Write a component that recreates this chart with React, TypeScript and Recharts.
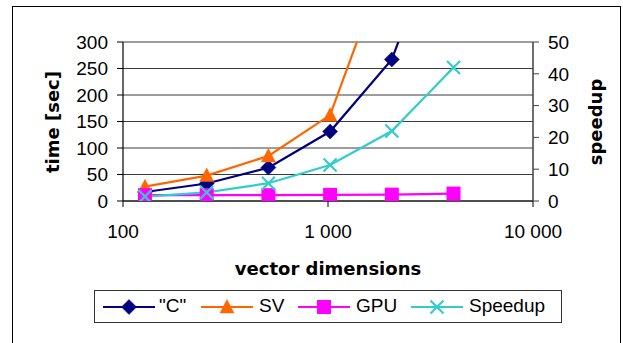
import React from 'react';
import { LineChart, Line, XAxis, YAxis, CartesianGrid, Legend, Label } from 'recharts';

// ---- data ----
const dims = [128, 256, 512, 1024, 2048, 4096];
const cTimes = [17, 33, 63, 131, 267, 580];
const svTimes = [27, 48, 85, 162, 480, null];
const gpuTimes = [11, 11, 11, 11.5, 12, 14];
const speedups = [1.4, 2.7, 5.6, 11.3, 22, 42];
const xTicks = [100, 1000, 10000];
const timeTicks = [0, 50, 100, 150, 200, 250, 300];
const speedTicks = [0, 10, 20, 30, 40, 50];

const seriesNames = ['"C"', 'SV', 'GPU', 'Speedup'];
const seriesKeys = ['c', 'sv', 'gpu', 'speedup'];
const seriesColors = ['#000080', '#FF6600', '#FF00FF', '#33CCCC'];
const seriesMarkers = ['diamond', 'triangle', 'square', 'x'];
const seriesAxis = ['left', 'left', 'left', 'right'];

const data = dims.map((d, i) => ({
  x: d,
  c: cTimes[i],
  sv: svTimes[i],
  gpu: gpuTimes[i],
  speedup: speedups[i],
}));

const tickFont = 'Liberation Sans, Arial, sans-serif';
const titleFont = 'DejaVu Sans, Verdana, sans-serif';

const fmt = (v: number) => String(v).replace(/\B(?=(\d{3})+(?!\d))/g, ' ');

function Marker({ kind, cx, cy, color }: { kind: string; cx: number; cy: number; color: string }) {
  if (cx == null || cy == null || isNaN(cx) || isNaN(cy)) return null;
  if (kind === 'diamond') {
    return <path d={`M${cx},${cy - 7.5}L${cx + 7.5},${cy}L${cx},${cy + 7.5}L${cx - 7.5},${cy}Z`} fill={color} stroke={color} strokeWidth={0.5} />;
  }
  if (kind === 'triangle') {
    return <path d={`M${cx},${cy - 7.5}L${cx + 7},${cy + 6}L${cx - 7},${cy + 6}Z`} fill={color} stroke={color} strokeWidth={0.5} />;
  }
  if (kind === 'square') {
    return <rect x={cx - 7} y={cy - 7} width={14} height={14} fill={color} />;
  }
  return (
    <g stroke={color} strokeWidth={2.2}>
      <line x1={cx - 6.5} y1={cy - 6.5} x2={cx + 6.5} y2={cy + 6.5} />
      <line x1={cx - 6.5} y1={cy + 6.5} x2={cx + 6.5} y2={cy - 6.5} />
    </g>
  );
}

const legendPos = [
  { line: 8, text: 64 },
  { line: 106, text: 164 },
  { line: 203, text: 261 },
  { line: 316, text: 374 },
];

function LegendBox() {
  return (
    <div
      style={{
        position: 'relative',
        width: 468,
        height: 33,
        border: '1px solid #333',
        boxSizing: 'border-box',
        background: '#fff',
        fontFamily: tickFont,
        fontSize: 19,
        color: '#000',
      }}
    >
      {seriesNames.map((n, i) => (
        <React.Fragment key={n}>
          <svg
            width={52}
            height={20}
            style={{ position: 'absolute', left: legendPos[i].line, top: 6 }}
          >
            <line x1={0} y1={10} x2={52} y2={10} stroke={seriesColors[i]} strokeWidth={2.2} />
            <Marker kind={seriesMarkers[i]} cx={26} cy={10} color={seriesColors[i]} />
          </svg>
          <span
            style={{
              position: 'absolute',
              left: legendPos[i].text,
              top: 4,
              lineHeight: '22px',
              whiteSpace: 'nowrap',
            }}
          >
            {n}
          </span>
        </React.Fragment>
      ))}
    </div>
  );
}

export default function App() {
  return (
    <div style={{ position: 'absolute', left: 0, top: 0, width: 623, height: 343, background: '#fff', overflow: 'hidden' }}>
      <div
        style={{
          position: 'absolute',
          left: 12,
          top: 6,
          width: 609,
          height: 360,
          border: '1.5px solid #000',
          boxSizing: 'border-box',
        }}
      />
      <div style={{ position: 'absolute', left: 0, top: 0 }}>
        <LineChart
          width={623}
          height={343}
          data={data}
          margin={{ top: 42, right: 30, left: 53, bottom: 62 }}
        >
          <CartesianGrid yAxisId="left" horizontal vertical={false} stroke="#3a3a3a" strokeWidth={1} horizontalValues={timeTicks} />
          <XAxis
            dataKey="x"
            type="number"
            scale="log"
            domain={[100, 10000]}
            ticks={xTicks}
            tickFormatter={fmt}
            height={80}
            tickSize={6}
            tickMargin={18}
            axisLine={{ stroke: '#000', strokeWidth: 1.2 }}
            tickLine={{ stroke: '#000' }}
            tick={{ fill: '#000', fontFamily: tickFont, fontSize: 19 }}
          >
            <Label
              content={() => (
                <text x={328} y={275} textAnchor="middle" fontFamily={titleFont} fontWeight="bold" fontSize={18} fill="#000">
                  vector dimensions
                </text>
              )}
            />
          </XAxis>
          <YAxis
            yAxisId="left"
            orientation="left"
            width={70}
            domain={[0, 300]}
            allowDataOverflow
            ticks={timeTicks}
            interval={0}
            tickSize={6}
            tickMargin={9}
            axisLine={{ stroke: '#000', strokeWidth: 1.2 }}
            tickLine={{ stroke: '#000' }}
            tick={{ fill: '#000', fontFamily: tickFont, fontSize: 19 }}
          >
            <Label
              content={() => (
                <text x={52} y={122} transform="rotate(-90 52 122)" textAnchor="middle" dominantBaseline="central" fontFamily={titleFont} fontWeight="bold" fontSize={18} fill="#000">
                  time [sec]
                </text>
              )}
            />
          </YAxis>
          <YAxis
            yAxisId="right"
            orientation="right"
            width={60}
            domain={[0, 50]}
            allowDataOverflow
            ticks={speedTicks}
            interval={0}
            tickSize={6}
            tickMargin={9}
            axisLine={{ stroke: '#404040', strokeWidth: 1.5 }}
            tickLine={{ stroke: '#404040' }}
            tick={{ fill: '#000', fontFamily: tickFont, fontSize: 19 }}
          >
            <Label
              content={() => (
                <text x={595} y={122} transform="rotate(-90 595 122)" textAnchor="middle" dominantBaseline="central" fontFamily={titleFont} fontWeight="bold" fontSize={18} fill="#000">
                  speedup
                </text>
              )}
            />
          </YAxis>
          {seriesKeys.map((k, i) => (
            <Line
              key={k}
              yAxisId={seriesAxis[i]}
              dataKey={k}
              name={seriesNames[i]}
              stroke={seriesColors[i]}
              strokeWidth={2.2}
              isAnimationActive={false}
              connectNulls={false}
              dot={(p: any) => (
                <Marker key={`${k}-${p.index}`} kind={seriesMarkers[i]} cx={p.cx} cy={p.cy} color={seriesColors[i]} />
              )}
              activeDot={false}
            />
          ))}
          <Legend
            layout="horizontal"
            align="center"
            verticalAlign="middle"
            wrapperStyle={{ left: 94, top: 290, width: 468, height: 33 }}
            content={() => <LegendBox />}
          />
        </LineChart>
      </div>
    </div>
  );
}
